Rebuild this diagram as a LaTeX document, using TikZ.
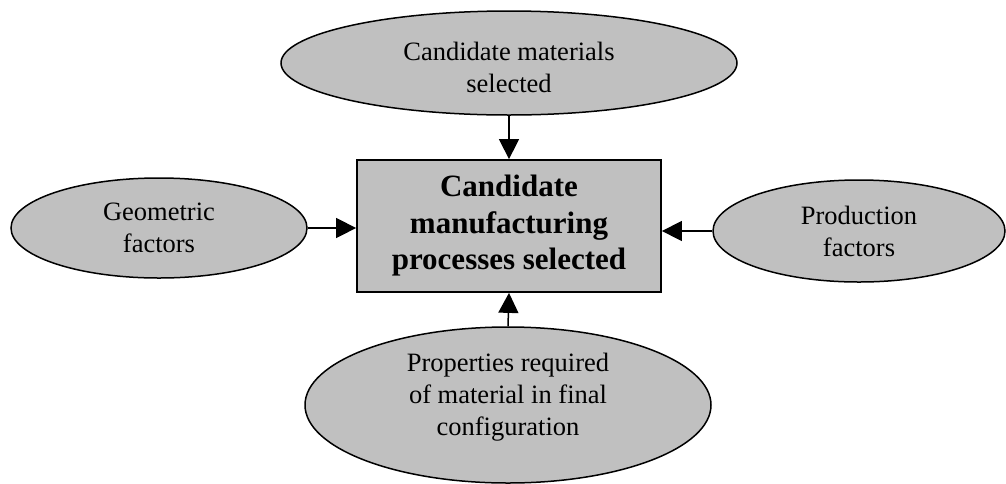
\documentclass[tikz,border=0pt]{standalone}
\usepackage{fontspec}
\setmainfont{Liberation Serif}
\usetikzlibrary{shapes.geometric,arrows.meta}
\definecolor{boxgray}{RGB}{192,192,192}
\begin{document}
\begin{tikzpicture}[x=1pt,y=-1pt,
  oval/.style={ellipse, draw=black, line width=1.5pt, fill=boxgray, inner sep=0pt,
    align=center, font=\fontsize{26.5}{32}\selectfont},
  mainbox/.style={rectangle, draw=black, line width=1.8pt, fill=boxgray, inner sep=0pt,
    minimum width=304pt, minimum height=132pt, align=center,
    font=\fontsize{31}{36.5}\selectfont\bfseries},
  arr/.style={line width=1.5pt, -{Triangle[length=20pt,width=20pt]}}]
\useasboundingbox (0,0) rectangle (1006,483);
\node[mainbox] (box) at (509,226) {Candidate\\manufacturing\\processes selected};
\node[oval, minimum width=456pt, minimum height=104pt] (top) at (509,63) {};
\node[font=\fontsize{26.5}{32}\selectfont, align=center] (toptext) at (509,67) {Candidate materials\\selected};
\node[oval, minimum width=296pt, minimum height=100pt] (left) at (159,228) {Geometric\\factors};
\node[oval, minimum width=292pt, minimum height=102pt] (right) at (859,231) {Production\\factors};
\node[oval, minimum width=406pt, minimum height=156pt] (bottom) at (508,405) {};
\node[font=\fontsize{26.5}{32}\selectfont, align=center] (bottext) at (508,397) {Properties required\\of material in final\\configuration};
\draw[arr] (top.south) -- (box.north);
\draw[arr] (bottom.north) -- (box.south);
\draw[arr] (left.east) -- (left.east -| box.west);
\draw[arr] (right.west) -- (right.west -| box.east);
\end{tikzpicture}
\end{document}
